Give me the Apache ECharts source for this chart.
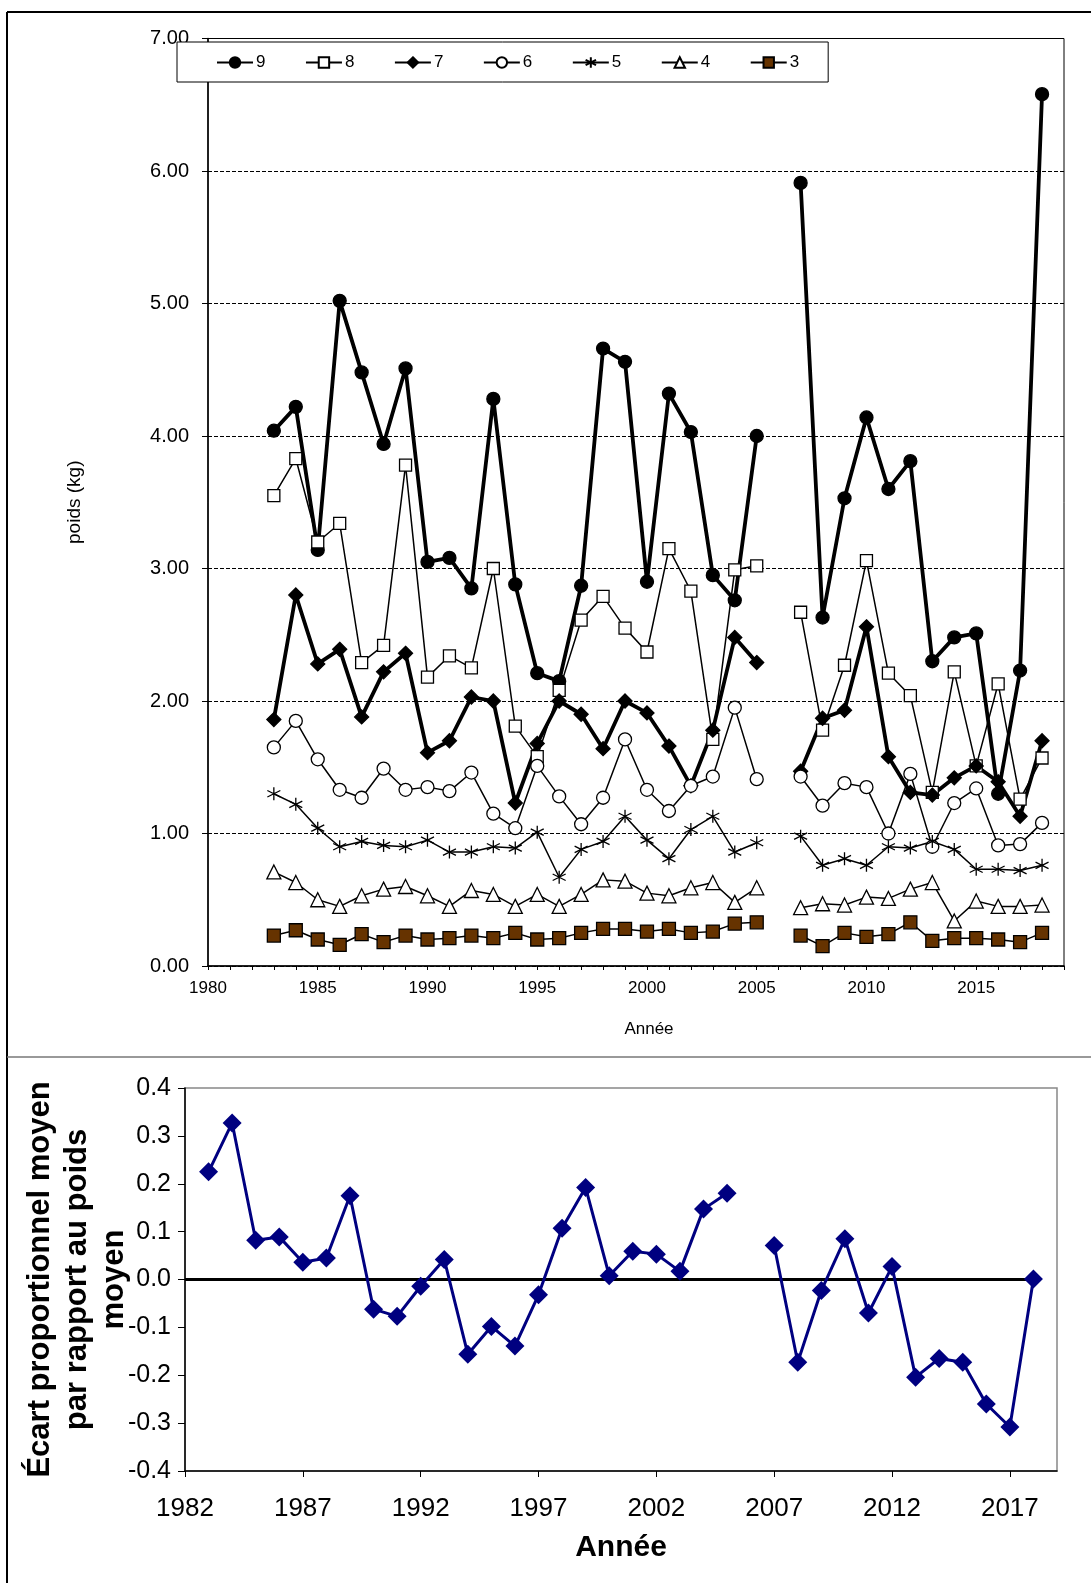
<!DOCTYPE html>
<html>
<head>
<meta charset="utf-8">
<script src="https://cdn.jsdelivr.net/npm/echarts@6/dist/echarts.min.js"></script>
<style>
html,body{margin:0;padding:0;background:#fff;}
#c{width:1091px;height:1583px;}
</style>
</head>
<body>
<div id="c"></div>
<script>
// ---------- data ----------
const years = [1983,1984,1985,1986,1987,1988,1989,1990,1991,1992,1993,1994,1995,1996,1997,1998,1999,2000,2001,2002,2003,2004,2005,2006,2007,2008,2009,2010,2011,2012,2013,2014,2015,2016,2017,2018];
const s9 = [4.04,4.22,3.14,5.02,4.48,3.94,4.51,3.05,3.08,2.85,4.28,2.88,2.21,2.15,2.87,4.66,4.56,2.90,4.32,4.03,2.95,2.76,4.00,null,5.91,2.63,3.53,4.14,3.60,3.81,2.30,2.48,2.51,1.30,2.23,6.58];
const s8 = [3.55,3.83,3.20,3.34,2.29,2.42,3.78,2.18,2.34,2.25,3.00,1.81,1.58,2.08,2.61,2.79,2.55,2.37,3.15,2.83,1.71,2.99,3.02,null,2.67,1.78,2.27,3.06,2.21,2.04,1.31,2.22,1.51,2.13,1.26,1.57];
const s7 = [1.86,2.80,2.28,2.39,1.88,2.22,2.36,1.61,1.70,2.03,2.00,1.23,1.68,2.00,1.90,1.64,2.00,1.91,1.66,1.36,1.78,2.48,2.29,null,1.47,1.87,1.93,2.56,1.58,1.31,1.29,1.42,1.51,1.39,1.13,1.70];
const s6 = [1.65,1.85,1.56,1.33,1.27,1.49,1.33,1.35,1.32,1.46,1.15,1.04,1.51,1.28,1.07,1.27,1.71,1.33,1.17,1.36,1.43,1.95,1.41,null,1.43,1.21,1.38,1.35,1.00,1.45,0.90,1.23,1.34,0.91,0.92,1.08];
const s5 = [1.30,1.22,1.04,0.90,0.94,0.91,0.90,0.95,0.86,0.86,0.90,0.89,1.01,0.67,0.88,0.94,1.13,0.95,0.81,1.03,1.13,0.86,0.93,null,0.98,0.76,0.81,0.76,0.90,0.89,0.94,0.88,0.73,0.73,0.72,0.76];
const s4 = [0.71,0.63,0.50,0.45,0.53,0.58,0.60,0.53,0.45,0.57,0.54,0.45,0.54,0.45,0.54,0.65,0.64,0.55,0.53,0.59,0.63,0.48,0.59,null,0.44,0.47,0.46,0.52,0.51,0.58,0.63,0.34,0.49,0.45,0.45,0.46];
const s3 = [0.23,0.27,0.20,0.16,0.24,0.18,0.23,0.20,0.21,0.23,0.21,0.25,0.20,0.21,0.25,0.28,0.28,0.26,0.28,0.25,0.26,0.32,0.33,null,0.23,0.15,0.25,0.22,0.24,0.33,0.19,0.21,0.21,0.20,0.18,0.25];
const dev = [0.225,0.327,0.082,0.089,0.036,0.045,0.175,-0.062,-0.077,-0.014,0.042,-0.156,-0.098,-0.139,-0.032,0.107,0.192,0.008,0.059,0.053,0.017,0.147,0.180,null,0.071,-0.173,-0.023,0.085,-0.070,0.027,-0.204,-0.165,-0.173,-0.260,-0.308,0.001];
const zeroLine = [[1982,0],[2018,0]];
const seriesNames = ['9','8','7','6','5','4','3'];

// ---------- helpers ----------
const FONT = 'Liberation Sans, Arial, sans-serif';
function pairs(arr){ return years.map((y,i)=> arr[i]===null ? [y,'-'] : [y, arr[i]]); }
const asterisk = 'path://M5,0L5,10M0.67,2.5L9.33,7.5M9.33,2.5L0.67,7.5';

function topSeries(name, data, symbol, size, lw, fill){
  return {
    name: name, type:'line', xAxisIndex:0, yAxisIndex:0,
    data: pairs(data), symbol: symbol, symbolSize: size, showAllSymbol:true,
    connectNulls:false, animation:false,
    lineStyle:{color:'#000', width:lw},
    itemStyle:{color:fill, borderColor:'#000', borderWidth:1.3, opacity:1},
    emphasis:{disabled:true}
  };
}

const chart = echarts.init(document.getElementById('c'), null, {renderer:'canvas'});
const option = {
  backgroundColor:'#fff',
  animation:false,
  textStyle:{fontFamily:FONT, color:'#000'},
  grid:[
    {left:208, top:38.5, right:27, height:927.5, show:true, borderColor:'#000', borderWidth:1, backgroundColor:'transparent'},
    {left:185, top:1088, right:34, height:383, show:true, borderColor:'#888', borderWidth:1.5, backgroundColor:'transparent'}
  ],
  legend:{
    data: seriesNames,
    left:177, top:42,
    orient:'horizontal',
    itemWidth:36, itemHeight:13, itemGap:39.5,
    padding:[12,29,11,39],
    backgroundColor:'#fff', borderColor:'#000', borderWidth:1, borderRadius:0,
    textStyle:{fontFamily:FONT, fontSize:17, color:'#000', padding:[0,0,0,-2]},
    selectedMode:false
  },
  xAxis:[
    {gridIndex:0, type:'value', min:1980, max:2019, interval:1,
     name:'Année', nameLocation:'middle', nameGap:55,
     nameTextStyle:{fontFamily:FONT, fontSize:17, color:'#000', padding:[0,0,0,26]},
     axisLine:{show:true, onZero:false, lineStyle:{color:'#000', width:1.5}},
     axisTick:{show:true, inside:false, length:4, lineStyle:{color:'#000', width:1}},
     axisLabel:{fontFamily:FONT, fontSize:17, color:'#000', margin:14,
       formatter:function(v){ return (v%5===0) ? String(v) : ''; }},
     splitLine:{show:false}},
    {gridIndex:1, type:'value', min:1982, max:2019, interval:5,
     name:'Année', nameLocation:'middle', nameGap:62,
     nameTextStyle:{fontFamily:FONT, fontSize:30, fontWeight:'bold', color:'#000'},
     axisLine:{show:true, onZero:false, lineStyle:{color:'#000', width:1.5}},
     axisTick:{show:true, inside:false, length:6, lineStyle:{color:'#000', width:1}},
     axisLabel:{fontFamily:FONT, fontSize:26, color:'#000', margin:25, showMaxLabel:false,
       formatter:function(v){ return ((v-1982)%5===0) ? String(v) : ''; }},
     splitLine:{show:false}}
  ],
  yAxis:[
    {gridIndex:0, type:'value', min:0, max:7, interval:1,
     name:'poids (kg)', nameLocation:'middle', nameGap:124, nameRotate:90,
     nameTextStyle:{fontFamily:FONT, fontSize:19, color:'#000'},
     axisLine:{show:true, lineStyle:{color:'#000', width:1.5}},
     axisTick:{show:true, inside:false, length:6, lineStyle:{color:'#000', width:1}},
     axisLabel:{fontFamily:FONT, fontSize:20, color:'#000', margin:19,
       formatter:function(v){ return v.toFixed(2); }},
     splitLine:{show:true, lineStyle:{color:'#000', width:1, type:[4,2]}}},
    {gridIndex:1, type:'value', min:-0.4, max:0.4, interval:0.1,
     name:'Écart proportionnel moyen\npar rapport au poids\nmoyen', nameLocation:'middle', nameGap:52, nameRotate:90,
     nameMoveOverlap:false,
     nameTextStyle:{fontFamily:FONT, fontSize:31, fontWeight:'bold', color:'#000', lineHeight:37, align:'center'},
     axisLine:{show:true, lineStyle:{color:'#000', width:1.5}},
     axisTick:{show:true, inside:false, length:7, lineStyle:{color:'#000', width:1}},
     axisLabel:{fontFamily:FONT, fontSize:25, color:'#000', margin:14,
       formatter:function(v){ return Math.abs(v)<1e-9 ? '0.0' : v.toFixed(1); }},
     splitLine:{show:false}}
  ],
  series:[
    topSeries('9', s9, 'circle', 13, 3.8, '#000'),
    topSeries('8', s8, 'rect', 12, 1.5, '#fff'),
    topSeries('7', s7, 'diamond', 14, 3.8, '#000'),
    topSeries('6', s6, 'circle', 13, 1.5, '#fff'),
    topSeries('5', s5, asterisk, 13, 1.5, 'none'),
    topSeries('4', s4, 'triangle', 14, 1.5, '#fff'),
    topSeries('3', s3, 'rect', 13, 1.5, '#663300'),
    {name:'zero', type:'line', xAxisIndex:1, yAxisIndex:1, data:zeroLine, symbol:'none',
     lineStyle:{color:'#000', width:3}, emphasis:{disabled:true}, z:1},
    {name:'dev', type:'line', xAxisIndex:1, yAxisIndex:1, data:pairs(dev),
     symbol:'diamond', symbolSize:19, showAllSymbol:true, connectNulls:false,
     lineStyle:{color:'#000080', width:3},
     itemStyle:{color:'#000080', borderColor:'#000080', borderWidth:0},
     emphasis:{disabled:true}, z:3}
  ],
  graphic:[
    {type:'line', shape:{x1:7, y1:12, x2:1091, y2:12}, style:{stroke:'#000', lineWidth:2}, silent:true},
    {type:'line', shape:{x1:7, y1:12, x2:7, y2:1583}, style:{stroke:'#000', lineWidth:2}, silent:true},
    {type:'line', shape:{x1:7, y1:1057, x2:1091, y2:1057}, style:{stroke:'#777', lineWidth:1.5}, silent:true}
  ]
};
chart.setOption(option);
</script>
</body>
</html>
